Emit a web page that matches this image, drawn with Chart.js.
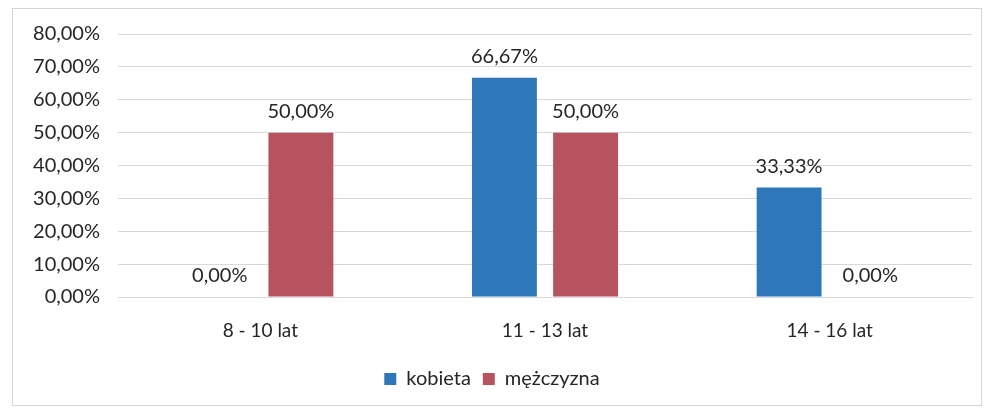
<!DOCTYPE html>
<html>
<head>
<meta charset="utf-8">
<script src="https://cdn.jsdelivr.net/npm/chart.js@4"></script>
<style>
body{margin:0;background:#fff;}
#wrap{position:relative;width:986px;height:411px;}
#frame{position:absolute;left:12px;top:8px;width:968px;height:396px;border:1px solid #d6d6d6;}
#c{position:absolute;left:0;top:0;}
</style>
</head>
<body>
<div id="wrap">
<div id="frame"></div>
<canvas id="c" width="986" height="411"></canvas>
</div>
<script>
const labels = ['8 - 10 lat','11 - 13 lat','14 - 16 lat'];
const kobieta = [0, 66.67, 33.33];
const mezczyzna = [50, 50, 0];
const yTicks = [0,10,20,30,40,50,60,70,80];

function pct(v){ return v.toFixed(2).replace('.', ',') + '%'; }

const FONT = 'Lato, "Open Sans", sans-serif';
const TXT = '#262626';

// value labels above bars
const valueLabels = {
id:'valueLabels',
afterDatasetsDraw(chart){
const ctx = chart.ctx;
ctx.save();
ctx.font = '20px ' + FONT;
ctx.fillStyle = TXT;
ctx.textAlign = 'center';
ctx.textBaseline = 'bottom';
chart.data.datasets.forEach((ds,i)=>{
chart.getDatasetMeta(i).data.forEach((bar,j)=>{
ctx.fillText(pct(ds.data[j]), bar.x, bar.y - 11);
});
});
ctx.restore();
}
};

new Chart(document.getElementById('c'),{
type:'bar',
data:{
labels:labels,
datasets:[
{label:'kobieta',data:kobieta,backgroundColor:'#2e78b9',barPercentage:0.8,categoryPercentage:0.57},
{label:'mężczyzna',data:mezczyzna,backgroundColor:'#b5535e',barPercentage:0.8,categoryPercentage:0.57}
]
},
options:{
responsive:false,
animation:false,
layout:{padding:{left:12,right:14,top:34,bottom:12}},
plugins:{
legend:{
position:'bottom',
labels:{font:{family:FONT,size:20},color:TXT,boxWidth:12,boxHeight:12,padding:12}
},
tooltip:{enabled:false}
},
scales:{
x:{
grid:{display:false},
border:{color:'#d9d9d9'},
ticks:{font:{family:FONT,size:19},color:TXT,padding:14},
afterFit(s){ s.height = 60; }
},
y:{
min:0,max:80,
afterBuildTicks(s){ s.ticks = yTicks.map(v=>({value:v})); },
grid:{color:'#d9d9d9',drawTicks:false},
border:{display:false},
ticks:{font:{family:FONT,size:20},color:TXT,padding:18,callback:v=>pct(v)},
afterFit(s){ s.width = 106; }
}
}
},
plugins:[valueLabels]
});
</script>
</body>
</html>
